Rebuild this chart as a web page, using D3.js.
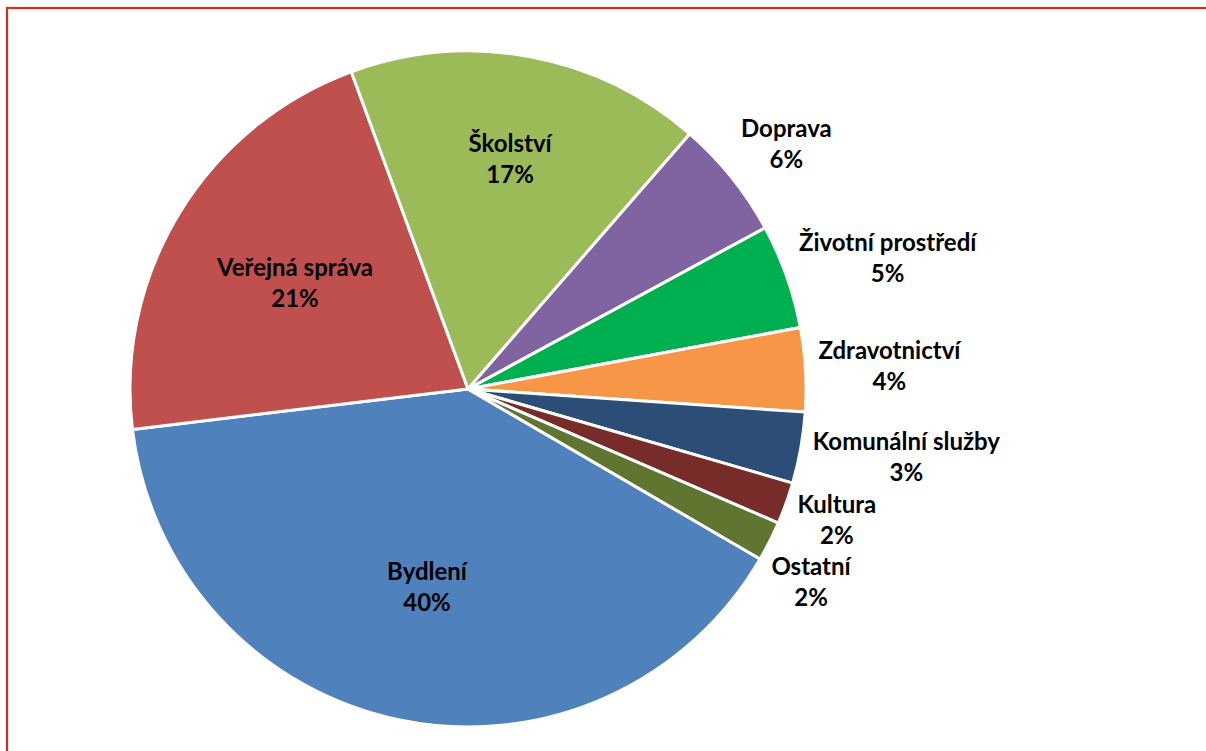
<!DOCTYPE html>
<html>
<head>
<meta charset="utf-8">
<script src="https://cdn.jsdelivr.net/npm/d3@7"></script>
<style>
  html, body { margin: 0; padding: 0; background: #fff; }
  svg { display: block; }
  text { font-family: Lato, "Open Sans", sans-serif; font-weight: bold; font-size: 24px; fill: #000; }
</style>
</head>
<body>
<svg id="chart" width="1206" height="751"></svg>
<script>
// data, clockwise starting from Bydlení
const categories = ["Bydlení", "Veřejná správa", "Školství", "Doprava", "Životní prostředí",
  "Zdravotnictví", "Komunální služby", "Kultura", "Ostatní"];
const values = [39.7, 21.3, 17.0, 5.7, 5.0, 4.0, 3.4, 2.0, 1.9];
const colors = ["#4F81BD", "#C0504D", "#9BBB59", "#8064A2", "#00B050",
  "#F79646", "#2C4D75", "#772C2A", "#5F7530"];

const width = 1206, height = 751;
const cx = 468, cy = 389, radius = 338;
const startDeg = 120.2;
const lineH = 31;

const svg = d3.select("#chart");

// frame of the chart area (runs past the right/bottom edge)
svg.append("rect")
  .attr("x", 7).attr("y", 8)
  .attr("width", 1400).attr("height", 1000)
  .attr("fill", "none")
  .attr("stroke", "#D0321E")
  .attr("stroke-width", 2.2);

const total = d3.sum(values);
const rows = categories.map((c, i) => ({ name: c, value: values[i], color: colors[i] }));

const start = startDeg * Math.PI / 180;
const pie = d3.pie().sort(null).value(d => d.value)
  .startAngle(start).endAngle(start + 2 * Math.PI);
const arcs = pie(rows);

const arc = d3.arc().innerRadius(0).outerRadius(radius);

const plot = svg.append("g").attr("transform", `translate(${cx},${cy})`);

plot.selectAll(".slice")
  .data(arcs)
  .join("path")
  .attr("class", "slice")
  .attr("d", arc)
  .attr("fill", d => d.data.color)
  .attr("stroke", "#fff")
  .attr("stroke-width", 3)
  .attr("stroke-linejoin", "round");

const pct = d => Math.round(d.data.value / total * 100) + "%";
const midOf = d => ((d.startAngle + d.endAngle) / 2) % (2 * Math.PI);

const labels = plot.selectAll(".lbl")
  .data(arcs)
  .join("text")
  .attr("class", "lbl")
  .attr("text-anchor", "middle");

labels.append("tspan").attr("x", 0).attr("dy", 0).text(d => d.data.name);
labels.append("tspan").attr("x", 0).attr("dy", lineH).text(d => pct(d));

// place labels: big slices inside, small ones outside (best-fit like)
const placed = [];
labels.each(function (d) {
  const a = midOf(d);
  const frac = d.data.value / total;
  const w = this.getBBox().width;
  let x, y;
  if (frac > 0.1) {
    const k = frac > 0.2 ? 0.6 : 0.69;
    x = Math.sin(a) * radius * k;
    y = -Math.cos(a) * radius * k;
  } else {
    const r = radius + 12;
    const px = Math.sin(a) * r, py = -Math.cos(a) * r;
    x = px + Math.sign(Math.sin(a)) * w / 2;
    y = py - Math.cos(a) * lineH * 1.3;
    // push down to avoid overlapping the previous outside label
    const prev = placed[placed.length - 1];
    if (prev && y < prev + 2 * lineH) {
      y = prev + 2 * lineH;
      x -= 10;
    }
    placed.push(y);
  }
  // y is the vertical centre of the two-line block
  d3.select(this)
    .attr("transform", `translate(${x},${y - lineH / 2 + 8})`);
});
</script>
</body>
</html>
